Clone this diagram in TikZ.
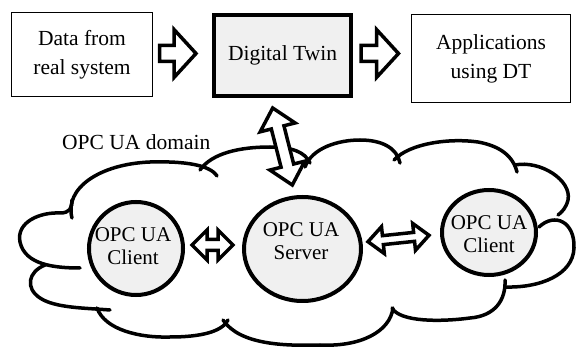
\documentclass[tikz,border=0pt]{standalone}
\usepackage{fontspec}
\setmainfont{Liberation Serif}
\newfontfamily\timesfont{Liberation Serif}
\usetikzlibrary{calc,shapes.geometric}
\definecolor{lightfill}{HTML}{F0F0F0}
\newcommand{\singleblockarrow}[5]{%
  \path ($(#2)!#3!(#1)$) coordinate (hbase);
  \draw[blockarrow] ($(#1)!#5!90:(#2)$) -- ($(hbase)!#5!-90:(#1)$) -- ($(hbase)!#4!-90:(#1)$) -- (#2)
    -- ($(hbase)!#4!90:(#1)$) -- ($(hbase)!#5!90:(#1)$) -- ($(#1)!#5!-90:(#2)$) -- cycle;}
\newcommand{\doubleblockarrow}[5]{%
  \path ($(#1)!#3!(#2)$) coordinate (hbasea) ($(#2)!#3!(#1)$) coordinate (hbaseb);
  \draw[blockarrow] (#1) -- ($(hbasea)!#4!90:(#2)$) -- ($(hbasea)!#5!90:(#2)$) -- ($(hbaseb)!#5!-90:(#1)$)
    -- ($(hbaseb)!#4!-90:(#1)$) -- (#2) -- ($(hbaseb)!#4!90:(#1)$) -- ($(hbaseb)!#5!90:(#1)$)
    -- ($(hbasea)!#5!-90:(#2)$) -- ($(hbasea)!#4!-90:(#2)$) -- cycle;}
\begin{document}
\begin{tikzpicture}[x=1pt,y=-1pt,
  plainbox/.style={draw=black, line width=1pt, fill=white, inner sep=0pt, align=center,
    font=\timesfont\fontsize{21.5}{29}\selectfont},
  dtbox/.style={plainbox, line width=4pt, fill=lightfill},
  opcnode/.style={ellipse, draw=black, line width=4pt, fill=lightfill, inner sep=0pt},
  opctext/.style={align=center, inner sep=0pt, font=\timesfont\fontsize{21}{23}\selectfont},
  domaintext/.style={inner sep=0pt, font=\timesfont\fontsize{21.5}{25}\selectfont},
  cloudline/.style={draw=black, line width=3.5pt, line cap=round},
  blockarrow/.style={draw=black, line width=3.5pt, fill=white, line join=miter}]
\useasboundingbox (0,0) rectangle (576,347);

% top row boxes
\node[plainbox, minimum width=141pt, minimum height=84pt] (data) at (82,54.5) {Data from\\real system};
\node[dtbox, minimum width=137pt, minimum height=81pt] (dt) at (282.5,55.5) {Digital Twin};
\node[plainbox, minimum width=159pt, minimum height=88pt] (apps) at (491,58.5) {Applications\\using DT};

% cloud (OPC UA domain)
\draw[cloudline] (72,218) .. controls (64,188) and (100,164) .. (150,162) .. controls (185,161) and (210,165) .. (217,176);
\draw[cloudline] (200,170) .. controls (212,153) and (240,147) .. (270,147) .. controls (292,147) and (305,152) .. (310,163);
\draw[cloudline] (305,167) .. controls (312,148) and (338,140) .. (360,140) .. controls (382,140) and (397,148) .. (400,163);
\draw[cloudline] (394,160) .. controls (410,143) and (450,138) .. (478,142) .. controls (500,146) and (513,156) .. (517,172);
\draw[cloudline] (515,165) .. controls (540,160) and (572,180) .. (568,200) .. controls (566,208) and (562,212) .. (558,215);
\draw[cloudline] (539,227) .. controls (555,212) and (575,222) .. (574,248) .. controls (573,275) and (540,288) .. (505,287);
\draw[cloudline] (505,280) .. controls (506,300) and (495,316) .. (470,318) .. controls (440,322) and (400,322) .. (392,308);
\draw[cloudline] (393,308) .. controls (390,332) and (360,347) .. (320,345) .. controls (285,346) and (240,345) .. (223,320);
\draw[cloudline] (228,320) .. controls (222,332) and (200,337) .. (170,337) .. controls (140,338) and (105,330) .. (97,308);
\draw[cloudline] (110,310) .. controls (85,308) and (55,308) .. (40,298) .. controls (25,288) and (28,272) .. (45,265);
\draw[cloudline] (80,268) .. controls (55,268) and (25,265) .. (20,242) .. controls (16,222) and (40,212) .. (60,213) .. controls (70,213) and (72,208) .. (72,200);

\node[domaintext, anchor=base west] (domain) at (62,150) {OPC UA domain};

% OPC UA nodes
\node[opcnode, minimum width=94pt, minimum height=93pt] (lc) at (136,248.5) {};
\node[opcnode, minimum width=117pt, minimum height=104pt] (srv) at (302.5,249) {};
\node[opcnode, minimum width=94pt, minimum height=85pt] (rc) at (489,232.5) {};
\node[opctext] (lctext) at (133,246.5) {OPC UA\\Client};
\node[opctext] (srvtext) at (301,241) {OPC UA\\Server};
\node[opctext] (rctext) at (489,234.5) {OPC UA\\Client};

% arrow end points
\coordinate (a1s) at ($(data.east)+(6.5,-1)$);
\coordinate (a1e) at ($(dt.west)+(-16,-2)$);
\coordinate (a2s) at ($(dt.east)+(8,-2)$);
\coordinate (a2e) at ($(apps.west)+(-12.5,-5)$);
\coordinate (vs) at ($(dt.south)+(-9.8,10)$);
\coordinate (ve) at ($(srv.north)+(-10.2,-10)$);
\coordinate (ls) at ($(lc.east)+(7,-3.5)$);
\coordinate (le) at ($(srv.west)+(-9,-4)$);
\coordinate (rs) at ($(srv.east)+(5,-7.3)$);
\coordinate (re) at ($(rc.west)+(-11,2.8)$);

% block arrows
\singleblockarrow{a1s}{a1e}{22pt}{24pt}{8pt}
\singleblockarrow{a2s}{a2e}{22pt}{24pt}{8pt}
\doubleblockarrow{vs}{ve}{20pt}{18pt}{6.5pt}
\doubleblockarrow{ls}{le}{15pt}{15pt}{5.5pt}
\doubleblockarrow{rs}{re}{15pt}{13.5pt}{4.5pt}
\end{tikzpicture}
\end{document}
